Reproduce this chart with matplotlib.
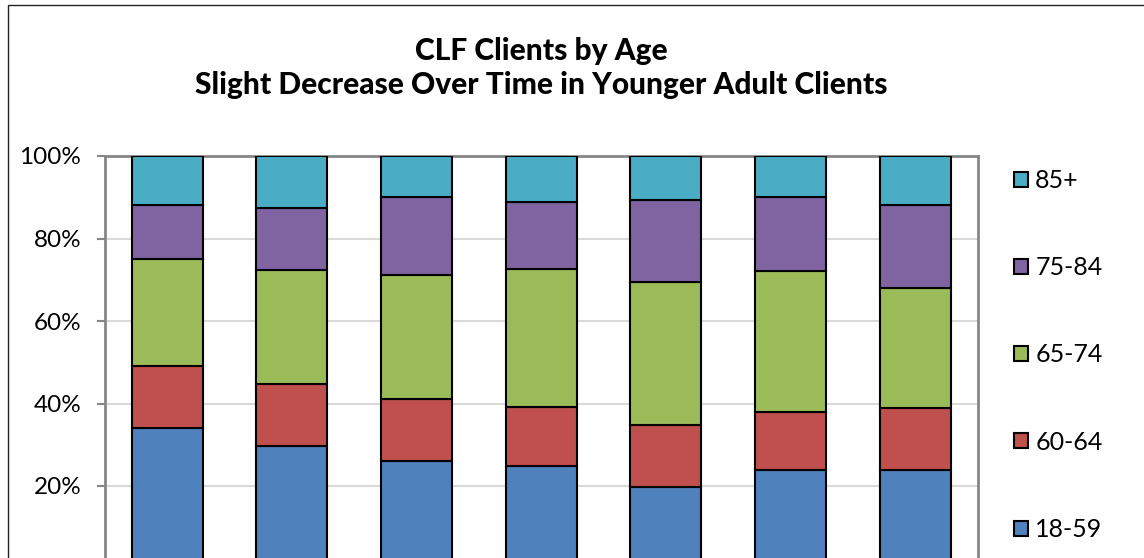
import matplotlib
matplotlib.use("Agg")
import matplotlib.pyplot as plt
from matplotlib.patches import Rectangle, Patch
from matplotlib.ticker import FuncFormatter
import numpy as np

periods = ["P1", "P2", "P3", "P4", "P5", "P6", "P7"]
age_groups = ["18-59", "60-64", "65-74", "75-84", "85+"]
colors = ["#4F81BD", "#C0504D", "#9BBB59", "#8064A2", "#4BACC6"]

# segment values (percent)
s18_59 = [34.1, 29.7, 26.0, 24.8, 19.8, 24.0, 24.0]
s60_64 = [14.9, 15.0, 15.1, 14.3, 14.9, 14.0, 15.0]
s65_74 = [26.1, 27.7, 30.1, 33.5, 34.8, 34.1, 29.0]
s75_84 = [13.0, 14.9, 18.9, 16.2, 19.8, 18.0, 20.1]
s85p = [11.9, 12.7, 9.9, 11.2, 10.7, 9.9, 11.9]
series = [s18_59, s60_64, s65_74, s75_84, s85p]

yticks = [20, 40, 60, 80, 100]

plt.rcParams['font.family'] = ['Lato', 'DejaVu Sans']

W, H = 1144, 558
fig = plt.figure(figsize=(W / 100, H / 100), dpi=100)

# outer chart frame (cropped on right & bottom)
fig.add_artist(Rectangle((7.5 / W, -0.1), 2, 1 - 5.5 / H + 0.1, transform=fig.transFigure,
                         fill=False, edgecolor="#222222", linewidth=1.0))

left, right = 105 / W, 977.5 / W
top = 1 - 156 / H
bottom = 1 - 568.5 / H
ax = fig.add_axes([left, bottom, right - left, top - bottom])

x = np.arange(len(periods))
base = np.zeros(len(periods))
handles = []
for vals, col, lab in zip(series, colors, age_groups):
    v = np.array(vals)
    ax.bar(x, v, 0.57, bottom=base, color=col, edgecolor="black", linewidth=1.5, zorder=3)
    base += v
    handles.append(Patch(facecolor=col, edgecolor="black", linewidth=1.5, label=lab))

ax.set_xlim(-0.5, len(periods) - 0.5)
ax.set_ylim(0, 100)
ax.set_yticks(yticks)
ax.yaxis.set_major_formatter(FuncFormatter(lambda v, p: f"{int(v)}%"))
ax.tick_params(axis="y", labelsize=17.5, length=6, width=1.5, color="#868686", pad=11)
ax.tick_params(axis="x", bottom=False, labelbottom=False)
ax.grid(axis="y", color="#D9D9D9", linewidth=1.5, zorder=0)
ax.set_axisbelow(True)
for sp in ax.spines.values():
    sp.set_color("#868686")
    sp.set_linewidth(2)

fig.text(541 / W, 1 - 51 / H, "CLF Clients by Age", ha="center", va="center",
         fontsize=21.5, fontweight="black")
fig.text(541 / W, 1 - 85 / H, "Slight Decrease Over Time in Younger Adult Clients",
         ha="center", va="center", fontsize=21.5, fontweight="black")

leg = fig.legend(handles=handles[::-1], loc="upper left",
                 bbox_to_anchor=(1014 / W, 1 - 169 / H), frameon=False,
                 fontsize=18, handlelength=0.55, handleheight=0.55,
                 handletextpad=0.3, labelspacing=2.57, borderpad=0, borderaxespad=0)

fig.savefig("out.png", dpi=100)
